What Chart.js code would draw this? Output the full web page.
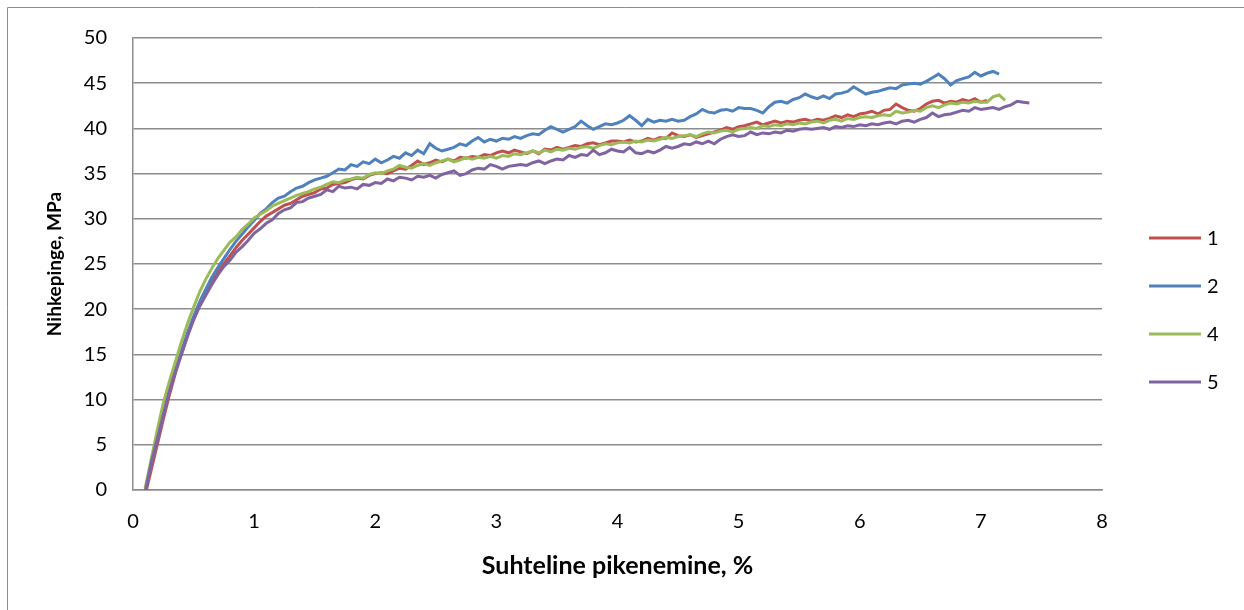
<!DOCTYPE html>
<html>
<head>
<meta charset="utf-8">
<script src="https://cdn.jsdelivr.net/npm/chart.js@4.4.0/dist/chart.umd.min.js"></script>
<style>
    body { margin: 0; background: #fff; }
    #wrap { width: 1244px; height: 610px; }
</style>
</head>
<body>
<div id="wrap"><canvas id="strainChart" width="1244" height="610"></canvas></div>
<script>
// Relative elongation, % (shared x values for all samples)
const strain = [
    0.10, 0.15, 0.20, 0.25, 0.30, 0.35, 0.40, 0.45, 0.50, 0.55,
    0.60, 0.65, 0.70, 0.75, 0.80, 0.85, 0.90, 0.95, 1.00, 1.05,
    1.10, 1.15, 1.20, 1.25, 1.30, 1.35, 1.40, 1.45, 1.50, 1.55,
    1.60, 1.65, 1.70, 1.75, 1.80, 1.85, 1.90, 1.95, 2.00, 2.05,
    2.10, 2.15, 2.20, 2.25, 2.30, 2.35, 2.40, 2.45, 2.50, 2.55,
    2.60, 2.65, 2.70, 2.75, 2.80, 2.85, 2.90, 2.95, 3.00, 3.05,
    3.10, 3.15, 3.20, 3.25, 3.30, 3.35, 3.40, 3.45, 3.50, 3.55,
    3.60, 3.65, 3.70, 3.75, 3.80, 3.85, 3.90, 3.95, 4.00, 4.05,
    4.10, 4.15, 4.20, 4.25, 4.30, 4.35, 4.40, 4.45, 4.50, 4.55,
    4.60, 4.65, 4.70, 4.75, 4.80, 4.85, 4.90, 4.95, 5.00, 5.05,
    5.10, 5.15, 5.20, 5.25, 5.30, 5.35, 5.40, 5.45, 5.50, 5.55,
    5.60, 5.65, 5.70, 5.75, 5.80, 5.85, 5.90, 5.95, 6.00, 6.05,
    6.10, 6.15, 6.20, 6.25, 6.30, 6.35, 6.40, 6.45, 6.50, 6.55,
    6.60, 6.65, 6.70, 6.75, 6.80, 6.85, 6.90, 6.95, 7.00, 7.05,
    7.10, 7.15, 7.20, 7.25, 7.30, 7.35, 7.40
];

// Tensile stress, MPa per sample
const sample1 = [
    -0.6, 2.2, 5.0, 7.8, 10.5, 12.9, 15.1, 17.1, 18.9, 20.5,
    21.8, 23.0, 24.1, 25.0, 25.9, 26.8, 27.6, 28.3, 29.0, 29.7,
    30.3, 30.7, 31.1, 31.5, 31.7, 32.1, 32.5, 32.7, 32.9, 33.3,
    33.4, 33.8, 33.9, 34.0, 34.3, 34.5, 34.4, 34.8, 35.0, 35.1,
    35.0, 35.3, 35.6, 35.5, 35.9, 36.4, 36.0, 36.2, 36.5, 36.3,
    36.6, 36.4, 36.8, 36.7, 36.9, 36.8, 37.1, 37.0, 37.3, 37.5,
    37.3, 37.6, 37.4, 37.2, 37.5, 37.2, 37.7, 37.6, 37.9, 37.7,
    37.9, 38.1, 38.0, 38.3, 38.4, 38.2, 38.4, 38.6, 38.6, 38.5,
    38.7, 38.5, 38.6, 38.9, 38.7, 39.0, 38.9, 39.5, 39.2, 39.1,
    39.3, 39.0, 39.2, 39.4, 39.6, 39.8, 40.1, 39.9, 40.2, 40.3,
    40.5, 40.7, 40.4, 40.6, 40.8, 40.6, 40.8, 40.7, 40.9, 41.0,
    40.8, 41.0, 40.9, 41.1, 41.4, 41.2, 41.5, 41.3, 41.6, 41.7,
    41.9, 41.6, 42.0, 42.1, 42.7, 42.3, 42.0, 41.9, 42.2, 42.7,
    43.0, 43.1, 42.8, 43.0, 42.9, 43.2, 43.0, 43.3, 42.9, 43.1,
    null, null, null, null, null, null, null
];
const sample2 = [
    -0.2, 2.8, 5.5, 8.3, 11.0, 13.3, 15.4, 17.4, 19.2, 20.8,
    22.2, 23.5, 24.6, 25.6, 26.6, 27.5, 28.3, 29.1, 29.8, 30.6,
    31.1, 31.8, 32.3, 32.5, 33.0, 33.4, 33.6, 34.0, 34.3, 34.5,
    34.7, 35.1, 35.5, 35.4, 36.0, 35.8, 36.3, 36.1, 36.6, 36.2,
    36.5, 36.9, 36.7, 37.3, 37.0, 37.6, 37.2, 38.3, 37.8, 37.5,
    37.7, 37.9, 38.3, 38.1, 38.6, 39.0, 38.5, 38.8, 38.6, 38.9,
    38.8, 39.1, 38.9, 39.2, 39.4, 39.3, 39.8, 40.2, 39.9, 39.6,
    39.9, 40.2, 40.8, 40.3, 39.9, 40.2, 40.5, 40.4, 40.6, 40.9,
    41.4, 40.9, 40.3, 41.0, 40.7, 40.9, 40.8, 41.0, 40.8, 40.9,
    41.3, 41.6, 42.1, 41.8, 41.7, 42.0, 42.1, 41.9, 42.3, 42.2,
    42.2, 42.0, 41.7, 42.4, 42.9, 43.0, 42.8, 43.2, 43.4, 43.8,
    43.5, 43.3, 43.6, 43.3, 43.8, 43.9, 44.1, 44.6, 44.2, 43.8,
    44.0, 44.1, 44.3, 44.5, 44.4, 44.8, 44.9, 45.0, 44.9, 45.2,
    45.6, 46.0, 45.5, 44.8, 45.3, 45.5, 45.7, 46.2, 45.8, 46.1,
    46.3, 46.0, null, null, null, null, null
];
const sample4 = [
    0.2, 3.4, 6.6, 9.6, 12.0, 14.2, 16.4, 18.4, 20.2, 21.9,
    23.3, 24.5, 25.6, 26.5, 27.4, 28.0, 28.8, 29.4, 30.1, 30.5,
    30.9, 31.4, 31.7, 32.0, 32.3, 32.6, 32.8, 33.0, 33.3, 33.5,
    33.8, 34.1, 34.0, 34.3, 34.4, 34.6, 34.5, 34.9, 35.1, 35.0,
    35.3, 35.5, 35.9, 35.7, 35.6, 35.9, 36.1, 35.9, 36.2, 36.4,
    36.6, 36.3, 36.5, 36.8, 36.6, 36.8, 36.7, 36.9, 36.7, 37.0,
    36.9, 37.2, 37.1, 37.3, 37.5, 37.3, 37.6, 37.4, 37.7, 37.6,
    37.8, 37.7, 37.9, 38.0, 37.8, 38.1, 38.3, 38.2, 38.4, 38.5,
    38.4, 38.6, 38.5, 38.7, 38.6, 38.8, 39.0, 38.9, 39.1, 39.2,
    39.3, 39.1, 39.4, 39.6, 39.5, 39.7, 39.8, 39.6, 39.9, 40.0,
    40.1, 40.0, 40.3, 40.2, 40.4, 40.3, 40.5, 40.4, 40.6, 40.5,
    40.7, 40.8, 40.6, 40.9, 41.0, 40.8, 41.1, 41.0, 41.2, 41.3,
    41.2, 41.4, 41.5, 41.4, 41.9, 41.7, 41.8, 42.0, 41.9, 42.3,
    42.5, 42.3, 42.6, 42.8, 42.7, 42.9, 42.8, 43.0, 42.9, 42.9,
    43.5, 43.7, 43.1, null, null, null, null
];
const sample5 = [
    -0.3, 3.0, 5.6, 8.3, 10.9, 13.1, 15.0, 17.0, 18.8, 20.3,
    21.5, 22.7, 23.8, 24.7, 25.4, 26.3, 26.9, 27.6, 28.4, 28.9,
    29.5, 29.9, 30.6, 31.0, 31.2, 31.8, 31.9, 32.3, 32.5, 32.7,
    33.2, 33.0, 33.6, 33.4, 33.5, 33.3, 33.8, 33.7, 34.0, 33.9,
    34.4, 34.2, 34.6, 34.5, 34.3, 34.7, 34.6, 34.8, 34.5, 34.9,
    35.1, 35.3, 34.8, 35.0, 35.4, 35.6, 35.5, 36.0, 35.8, 35.5,
    35.8, 35.9, 36.0, 35.9, 36.2, 36.4, 36.1, 36.4, 36.6, 36.5,
    37.0, 36.8, 37.1, 37.0, 37.6, 37.1, 37.3, 37.7, 37.5, 37.4,
    37.9, 37.3, 37.2, 37.5, 37.3, 37.6, 38.0, 37.8, 38.0, 38.3,
    38.2, 38.5, 38.3, 38.6, 38.3, 38.8, 39.1, 39.3, 39.1, 39.2,
    39.6, 39.3, 39.5, 39.4, 39.6, 39.5, 39.8, 39.7, 39.9, 40.0,
    39.9, 40.0, 40.1, 39.9, 40.2, 40.1, 40.3, 40.2, 40.4, 40.3,
    40.5, 40.4, 40.6, 40.7, 40.5, 40.8, 40.9, 40.7, 41.0, 41.2,
    41.7, 41.3, 41.5, 41.6, 41.8, 42.0, 41.9, 42.3, 42.1, 42.2,
    42.3, 42.1, 42.4, 42.6, 43.0, 42.9, 42.8
];

const seriesLabels = ['1', '2', '4', '5'];
const seriesValues = [sample1, sample2, sample4, sample5];
const seriesColors = ['#C0504D', '#4F81BD', '#9BBB59', '#8064A2'];

const xTickMax = 8;
const yTickMax = 50;
const yTickStep = 5;

const FONT = 'Lato, "Open Sans", sans-serif';
const GRID_GRAY = '#8C8C8C';

function toPoints(values) {
    const points = [];
    values.forEach((v, i) => {
        if (v !== null) {
            points.push({ x: strain[i], y: v });
        }
    });
    return points;
}

// Outer frame (only top and left edges are visible in the original)
const framePlugin = {
    id: 'frame',
    beforeDraw(chart) {
        const ctx = chart.ctx;
        ctx.save();
        ctx.strokeStyle = GRID_GRAY;
        ctx.lineWidth = 1;
        ctx.beginPath();
        ctx.moveTo(7.5, chart.height);
        ctx.lineTo(7.5, 7.5);
        ctx.lineTo(chart.width, 7.5);
        ctx.stroke();
        ctx.restore();
    }
};

// Legend on the right: short line + label, in series order
const sideLegendPlugin = {
    id: 'sideLegend',
    afterDraw(chart) {
        const ctx = chart.ctx;
        const x0 = chart.chartArea.right + 47;
        const firstY = 238;
        const gap = 48;
        ctx.save();
        ctx.font = '20px ' + FONT;
        ctx.textBaseline = 'middle';
        ctx.fillStyle = '#000';
        seriesLabels.forEach((label, i) => {
            const y = firstY + i * gap;
            ctx.strokeStyle = seriesColors[i];
            ctx.lineWidth = 3;
            ctx.beginPath();
            ctx.moveTo(x0, y);
            ctx.lineTo(x0 + 52, y);
            ctx.stroke();
            ctx.fillText(label, x0 + 58, y + 1);
        });
        ctx.restore();
    }
};

const ctx = document.getElementById('strainChart').getContext('2d');

new Chart(ctx, {
    type: 'line',
    data: {
        datasets: seriesLabels.map((label, i) => ({
            label: label,
            data: toPoints(seriesValues[i]),
            borderColor: seriesColors[i],
            backgroundColor: seriesColors[i],
            borderWidth: 3,
            pointRadius: 0,
            tension: 0,
            fill: false,
            // later samples drawn on top, like the original
            order: seriesLabels.length - i
        }))
    },
    options: {
        responsive: false,
        animation: false,
        events: [],
        layout: {
            padding: { top: 37, right: 142, bottom: 0, left: 0 }
        },
        plugins: {
            legend: { display: false },
            tooltip: { enabled: false }
        },
        scales: {
            x: {
                type: 'linear',
                min: 0,
                max: xTickMax,
                afterFit: scale => { scale.height = 120; },
                ticks: {
                    stepSize: 1,
                    color: '#000',
                    padding: 20,
                    font: { family: FONT, size: 20 }
                },
                grid: { display: false, drawTicks: false },
                border: { display: true, color: GRID_GRAY, width: 1.5 },
                title: {
                    display: true,
                    text: 'Suhteline pikenemine, %',
                    color: '#000',
                    font: { family: FONT, size: 25, weight: 'bold' },
                    padding: { top: 0, bottom: 29 }
                }
            },
            y: {
                min: 0,
                max: yTickMax,
                afterFit: scale => { scale.width = 133; },
                ticks: {
                    stepSize: yTickStep,
                    color: '#000',
                    padding: 26,
                    font: { family: FONT, size: 20 }
                },
                grid: { color: GRID_GRAY, lineWidth: 1.5, drawTicks: false },
                border: { display: true, color: GRID_GRAY, width: 1.5 },
                title: {
                    display: true,
                    text: 'Nihkepinge, MPa',
                    color: '#000',
                    font: { family: FONT, size: 19, weight: 'bold' },
                    padding: { top: 43, bottom: 0 }
                }
            }
        }
    },
    plugins: [framePlugin, sideLegendPlugin]
});
</script>
</body>
</html>
